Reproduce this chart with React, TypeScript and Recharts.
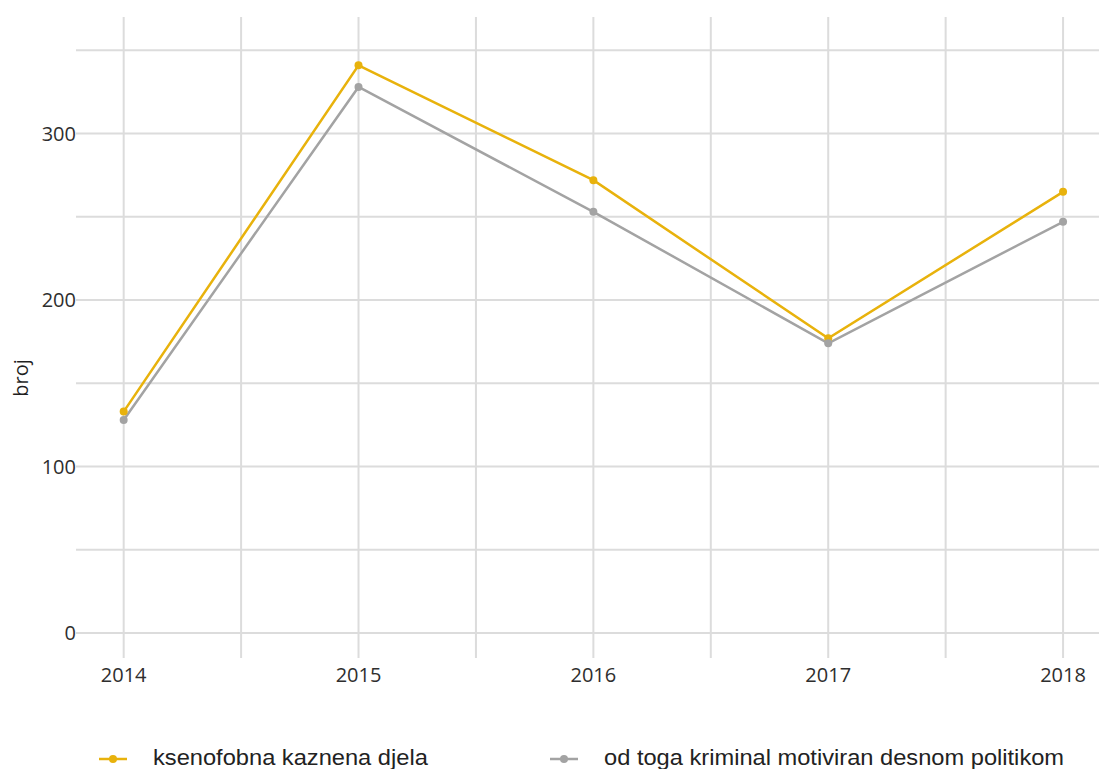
import { CartesianGrid, Line, LineChart, XAxis, YAxis } from "recharts"

const YEARS = [2014, 2015, 2016, 2017, 2018]
const KSENOFOBNA = [133, 341, 272, 177, 265]
const DESNO = [128, 328, 253, 174, 247]

const X_TICKS = [2014, 2014.5, 2015, 2015.5, 2016, 2016.5, 2017, 2017.5, 2018]
const Y_TICKS = [0, 50, 100, 150, 200, 250, 300, 350]

const SERIES = [
  { key: "ksenofobna", name: "ksenofobna kaznena djela", color: "#e8b20c" },
  { key: "desno", name: "od toga kriminal motiviran desnom politikom", color: "#a3a3a3" },
]

const data = YEARS.map((year, i) => ({
  year,
  ksenofobna: KSENOFOBNA[i],
  desno: DESNO[i],
}))

const TICK_FONT = { fontFamily: "'Open Sans', sans-serif", fontSize: 20, fill: "#2e2e2e" }

function LegendRow() {
  return (
    <div
      style={{
        position: "absolute",
        left: 0,
        top: 740,
        width: 1099,
        height: 29,
        overflow: "hidden",
        fontFamily: "'Liberation Sans', Arial, sans-serif",
        fontSize: 22,
        color: "#222",
      }}
    >
      {SERIES.map((s, i) => (
        <div
          key={s.key}
          style={{
            position: "absolute",
            left: i === 0 ? 98 : 549,
            top: 3,
            display: "flex",
            alignItems: "center",
            whiteSpace: "nowrap",
          }}
        >
          <svg width={30} height={30}>
            <line x1={1} y1={16} x2={29} y2={16} stroke={s.color} strokeWidth={2.5} />
            <circle cx={15} cy={16} r={4} fill={s.color} />
          </svg>
          <span
            style={{
              marginLeft: 25,
              display: "inline-block",
              transform: "scaleX(1.075)",
              transformOrigin: "left center",
            }}
          >
            {s.name}
          </span>
        </div>
      ))}
    </div>
  )
}

function AxisTitle() {
  return (
    <text
      transform="translate(28,378) rotate(-90)"
      textAnchor="middle"
      fontFamily="'Open Sans', sans-serif"
      fontSize={20}
      fill="#1f1f1f"
    >
      broj
    </text>
  )
}

export default function App() {
  return (
    <div style={{ position: "absolute", left: 0, top: 0, width: 1099, height: 769, background: "#fff" }}>
      <LineChart
        width={1099}
        height={769}
        data={data}
        margin={{ top: 17, right: 0, bottom: 71, left: 0 }}
      >
        <CartesianGrid
          stroke="#dcdcdc"
          strokeWidth={2}
          horizontalValues={Y_TICKS}
          verticalValues={X_TICKS}
        />
        <XAxis
          dataKey="year"
          type="number"
          domain={[2013.797, 2018.153]}
          allowDataOverflow
          ticks={X_TICKS}
          interval={0}
          tickFormatter={(v: number) => (Number.isInteger(v) ? String(v) : "")}
          axisLine={false}
          tickLine={false}
          tickSize={0}
          tickMargin={10}
          height={40}
          tick={TICK_FONT}
        />
        <YAxis
          type="number"
          domain={[-15, 370]}
          allowDataOverflow
          ticks={Y_TICKS}
          interval={0}
          tickFormatter={(v: number) => (v % 100 === 0 ? String(v) : "")}
          axisLine={false}
          tickLine={false}
          tickSize={0}
          tickMargin={0}
          width={76}
          tick={TICK_FONT}
          label={<AxisTitle />}
        />
        {SERIES.map((s) => (
          <Line
            key={s.key}
            dataKey={s.key}
            name={s.name}
            stroke={s.color}
            strokeWidth={2.5}
            dot={{ r: 4, fill: s.color, stroke: s.color, strokeWidth: 0 }}
            activeDot={false}
            isAnimationActive={false}
          />
        ))}
      </LineChart>
      <LegendRow />
    </div>
  )
}
